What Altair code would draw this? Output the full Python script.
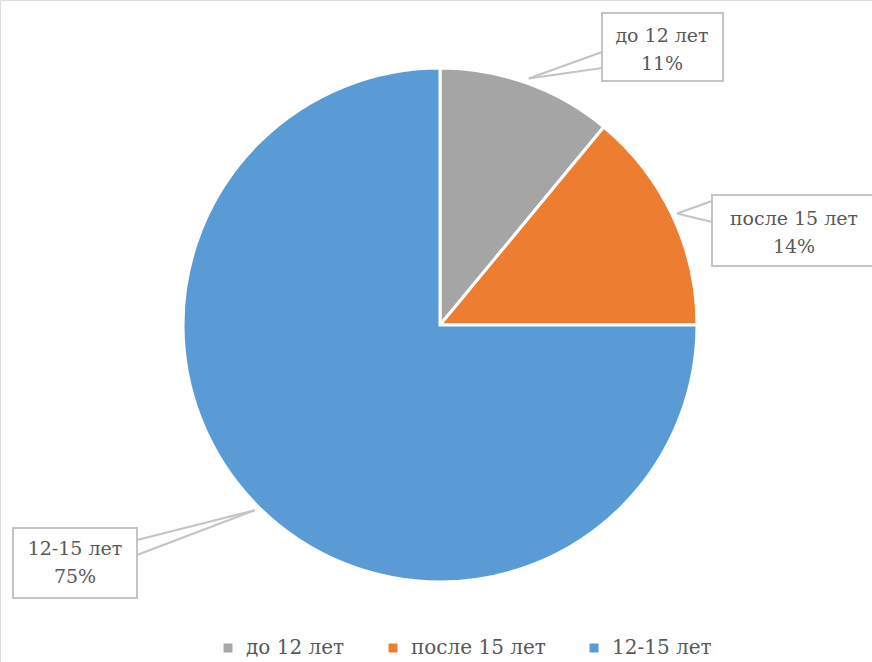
import math
import altair as alt
import pandas as pd

# ---- data ----
categories = ["до 12 лет", "после 15 лет", "12-15 лет"]
values = [11, 14, 75]
colors = ["#A5A5A5", "#ED7D31", "#5B9BD5"]

# ---- layout constants (pixels) ----
W, H = 872, 662
CX, CY, R = 440, 325, 257
TIP_R = 262
label_firstline = [(662, 36), (794, 219), (75, 549)]
boxes = [(602, 13, 723, 81), (712, 195, 878, 266), (13, 528, 137, 598)]
box_anchors = [((602, 52), (602, 68)), ((712, 201), (712, 222)), ((137, 540), (137, 555))]

total = sum(values)
pie_df = pd.DataFrame({"cat": categories, "value": values, "idx": list(range(len(values)))})

# label / leader data derived from the slice angles
rows_lbl, rows_box, rows_lead = [], [], []
cum = 0
for i, (c, v) in enumerate(zip(categories, values)):
    mid = (cum + v / 2) / total * 2 * math.pi
    cum += v
    tx = CX + TIP_R * math.sin(mid)
    ty = CY - TIP_R * math.cos(mid)
    lx, ly = label_firstline[i]
    rows_lbl.append({"x": lx, "y": ly, "t": f"{c}\n{round(v / total * 100)}%"})
    bx1, by1, bx2, by2 = boxes[i]
    rows_box.append({"x": bx1, "y": by1, "x2": bx2, "y2": by2})
    for ax, ay in box_anchors[i]:
        rows_lead.append({"x": tx, "y": ty, "x2": ax, "y2": ay})

lbl_df = pd.DataFrame(rows_lbl)
box_df = pd.DataFrame(rows_box)
lead_df = pd.DataFrame(rows_lead)

xs = alt.Scale(domain=[0, W], range=[0, W])
ys = alt.Scale(domain=[0, H], range=[0, H])

FONT = "DejaVu Serif"
TXT = "#595959"
GRID = "#C4C4C4"

pie = alt.Chart(pie_df).mark_arc(
    outerRadius=R, stroke="white", strokeWidth=3, x=CX, y=CY
).encode(
    theta=alt.Theta("value:Q", stack=True),
    order=alt.Order("idx:Q"),
    color=alt.Color(
        "cat:N",
        scale=alt.Scale(domain=categories, range=colors),
        sort=categories,
        legend=alt.Legend(
            title=None,
            orient="none",
            direction="horizontal",
            legendX=218,
            legendY=638,
            symbolType="square",
            symbolSize=80,
            symbolStrokeWidth=0,
            labelFont=FONT,
            labelFontSize=20,
            labelColor=TXT,
            labelOffset=8,
            labelLimit=300,
            columnPadding=38,
        ),
    ),
)

leads = alt.Chart(lead_df).mark_rule(color=GRID, strokeWidth=2).encode(
    x=alt.X("x:Q", scale=xs, axis=None),
    y=alt.Y("y:Q", scale=ys, axis=None),
    x2="x2:Q",
    y2="y2:Q",
)

rects = alt.Chart(box_df).mark_rect(fill="white", stroke=GRID, strokeWidth=2).encode(
    x=alt.X("x:Q", scale=xs, axis=None),
    y=alt.Y("y:Q", scale=ys, axis=None),
    x2="x2:Q",
    y2="y2:Q",
)

texts = alt.Chart(lbl_df).mark_text(
    font=FONT, fontSize=19, color=TXT, lineBreak="\n", lineHeight=28,
    align="center", baseline="middle",
).encode(
    x=alt.X("x:Q", scale=xs, axis=None),
    y=alt.Y("y:Q", scale=ys, axis=None),
    text="t:N",
)

chart = alt.layer(pie, leads, rects, texts).properties(
    width=W, height=H, padding=0, autosize=alt.AutoSizeParams(type="none")
).configure_view(stroke=None).configure(background="white")

chart.save("out.html", embed_options={"renderer": "svg", "actions": False})
